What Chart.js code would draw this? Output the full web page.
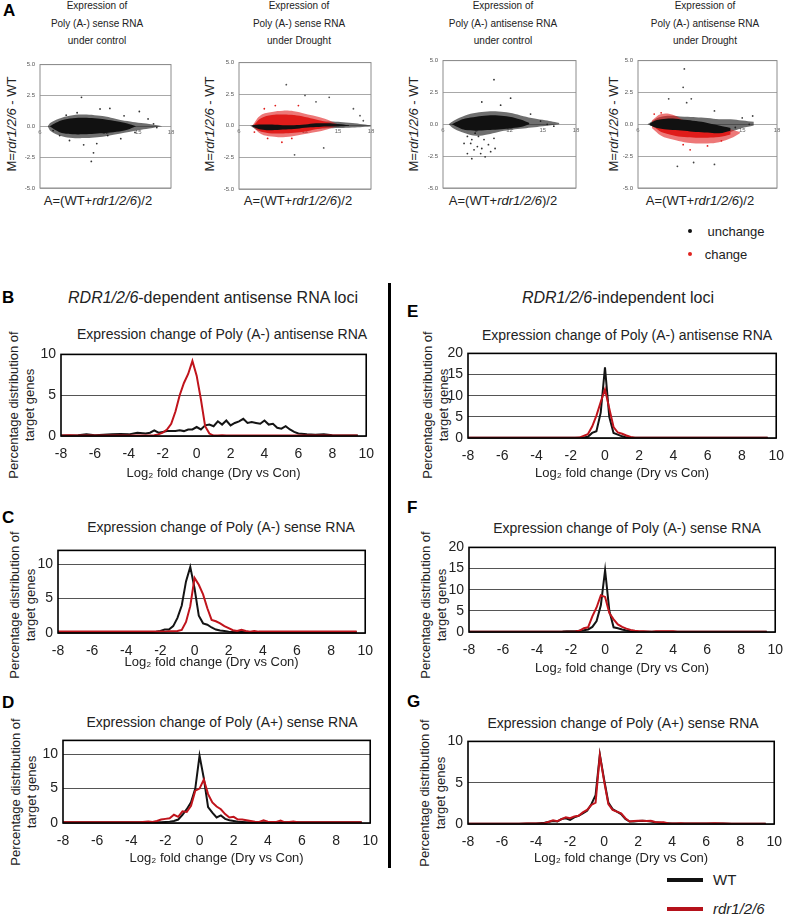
<!DOCTYPE html>
<html>
<head>
<meta charset="utf-8">
<script src="https://cdn.jsdelivr.net/npm/chart.js@4.4.1/dist/chart.umd.min.js"></script>
<style>
body { margin: 0; width: 793px; height: 915px; position: relative; background: #fff; overflow: hidden;
       font-family: 'Liberation Sans', Arial, sans-serif; color: #222; }
canvas { position: absolute; }
.t { position: absolute; white-space: nowrap; transform: translate(-50%, -50%); }
.r { position: absolute; white-space: nowrap; text-align: center; transform: translate(-50%, -50%) rotate(-90deg); }
.yt { font-size: 13px; line-height: 16px; }
.L { position: absolute; font-weight: bold; font-size: 17px; color: #000; transform: translateY(-50%); }
.sub { font-size: 10px; color: #222; text-align: center; line-height: 17.5px; }
.key { position: absolute; height: 4px; width: 36px; }
</style>
</head>
<body>

<!-- panel A -->
<div class="L" style="left:3px;top:11px">A</div>
<div class="t sub" style="left:97px;top:23px">Expression of<br>Poly (A-) sense RNA<br>under control</div>
<div class="t sub" style="left:299px;top:23px">Expression of<br>Poly (A-) sense RNA<br>under Drought</div>
<div class="t sub" style="left:503px;top:23px">Expression of<br>Poly (A-) antisense RNA<br>under control</div>
<div class="t sub" style="left:705px;top:23px">Expression of<br>Poly (A-) antisense RNA<br>under Drought</div>

<div class="r" style="left:11px;top:124px;font-size:13px">M=<i>rdr1/2/6</i> - WT</div>
<div class="r" style="left:209px;top:124px;font-size:13px">M=<i>rdr1/2/6</i> - WT</div>
<div class="r" style="left:413px;top:124px;font-size:13px">M=<i>rdr1/2/6</i> - WT</div>
<div class="r" style="left:613px;top:124px;font-size:13px">M=<i>rdr1/2/6</i> - WT</div>

<div class="t" style="left:98px;top:200px;font-size:13px">A=(WT+<i>rdr1/2/6</i>)/2</div>
<div class="t" style="left:298px;top:200px;font-size:13px">A=(WT+<i>rdr1/2/6</i>)/2</div>
<div class="t" style="left:503px;top:200px;font-size:13px">A=(WT+<i>rdr1/2/6</i>)/2</div>
<div class="t" style="left:700px;top:200px;font-size:13px">A=(WT+<i>rdr1/2/6</i>)/2</div>

<div style="position:absolute;left:688px;top:229px;width:4px;height:4px;border-radius:2px;background:#111"></div>
<div class="t" style="left:736px;top:231px;font-size:13px">unchange</div>
<div style="position:absolute;left:688px;top:252px;width:4px;height:4px;border-radius:2px;background:#e0231f"></div>
<div class="t" style="left:726px;top:254px;font-size:13px">change</div>

<canvas id="ma1" width="159" height="141" style="left:18px;top:56px"></canvas>
<canvas id="ma2" width="160" height="144" style="left:217px;top:54px"></canvas>
<canvas id="ma3" width="161" height="145" style="left:421px;top:52px"></canvas>
<canvas id="ma4" width="167" height="145" style="left:616px;top:52px"></canvas>

<!-- panels B-G -->
<div style="position:absolute;left:388px;top:283px;width:3px;height:585px;background:#000"></div>

<div class="t" style="left:213px;top:298px;font-size:16px"><i>RDR1/2/6</i>-dependent antisense RNA loci</div>
<div class="t" style="left:618px;top:298px;font-size:16px"><i>RDR1/2/6</i>-independent loci</div>

<div class="L" style="left:2px;top:298px">B</div>
<div class="L" style="left:2px;top:518px">C</div>
<div class="L" style="left:2px;top:703px">D</div>
<div class="L" style="left:407px;top:312px">E</div>
<div class="L" style="left:407px;top:508px">F</div>
<div class="L" style="left:407px;top:702px">G</div>

<div class="t" style="left:222px;top:334px;font-size:14px">Expression change of Poly (A-) antisense RNA</div>
<div class="t" style="left:221px;top:527px;font-size:14px">Expression change of Poly (A-) sense RNA</div>
<div class="t" style="left:222px;top:722px;font-size:14px">Expression change of Poly (A+) sense RNA</div>
<div class="t" style="left:627px;top:335px;font-size:14px">Expression change of Poly (A-) antisense RNA</div>
<div class="t" style="left:627px;top:528px;font-size:14px">Expression change of Poly (A-) sense RNA</div>
<div class="t" style="left:623px;top:723px;font-size:14px">Expression change of Poly (A+) sense RNA</div>

<div class="r yt" style="left:22px;top:405px">Percentage distribution of<br>target genes</div>
<div class="r yt" style="left:23px;top:605px">Percentage distribution of<br>target genes</div>
<div class="r yt" style="left:24px;top:792px">Percentage distribution of<br>target genes</div>
<div class="r yt" style="left:436px;top:405px">Percentage distribution of<br>target genes</div>
<div class="r yt" style="left:434px;top:605px">Percentage distribution of<br>target genes</div>
<div class="r yt" style="left:433px;top:793px">Percentage distribution of<br>target genes</div>

<canvas id="distB" width="384" height="144" style="left:0px;top:341px"></canvas>
<canvas id="distC" width="383" height="137" style="left:0px;top:537px"></canvas>
<canvas id="distD" width="388" height="143" style="left:0px;top:727px"></canvas>
<canvas id="distE" width="394" height="145" style="left:400px;top:340px"></canvas>
<canvas id="distF" width="393" height="146" style="left:400px;top:534px"></canvas>
<canvas id="distG" width="392" height="142" style="left:400px;top:728px"></canvas>

<div class="key" style="left:667px;top:878px;background:#111"></div>
<div style="position:absolute;left:713px;top:871px;font-size:15px">WT</div>
<div class="key" style="left:667px;top:907px;background:#b5121b"></div>
<div style="position:absolute;left:713px;top:900px;font-size:15px"><i>rdr1/2/6</i></div>

<script>
// ---------- panel A: MA plots (dense core + faded halo + sparse dots) ----------
const a1CoreX = [6.9, 7.5, 8, 9, 10, 11, 12, 13, 14, 14.8];
const a1CoreUp = [0, 0.3, 0.5, 0.65, 0.7, 0.65, 0.55, 0.4, 0.22, 0];
const a1CoreLo = [0, -0.35, -0.55, -0.65, -0.65, -0.6, -0.55, -0.45, -0.28, 0];
const a1HaloX = [6.7, 7, 8, 9, 10, 11, 12, 13, 14, 15, 16, 17.2];
const a1HaloUp = [0, 0.3, 0.7, 0.9, 0.95, 0.9, 0.8, 0.6, 0.42, 0.28, 0.18, 0];
const a1HaloLo = [0, -0.4, -0.8, -0.95, -0.95, -0.9, -0.8, -0.65, -0.48, -0.32, -0.18, 0];
const a1DotX = [9.8, 12.4, 15.1, 10.9, 10.7, 10, 8.7, 11.2, 12.2, 13.4, 9.4, 8.4, 11.5, 13.7, 15.9, 16.4, 16.7, 14.7, 7.8, 7.2];
const a1DotY = [2.35, 1.45, 1.2, -2.15, -2.85, -1.5, -1.15, -1.4, -0.75, -1.0, 1.1, 0.9, 1.4, 0.85, 0.6, 0.2, -0.1, -0.5, -0.75, -0.35];

const a2BlackX = [7.2, 8, 9, 10, 11, 12, 13, 14, 15, 16];
const a2BlackUp = [0.05, 0.1, 0.1, 0.05, 0.05, 0.1, 0.2, 0.2, 0.15, 0.05];
const a2BlackLo = [-0.05, -0.3, -0.35, -0.3, -0.25, -0.15, -0.1, -0.05, -0.05, -0.02];
const a2BHaloX = [7, 8, 10, 12, 14, 16, 18];
const a2BHaloUp = [0, 0.2, 0.15, 0.25, 0.35, 0.25, 0.05];
const a2BHaloLo = [0, -0.45, -0.45, -0.3, -0.2, -0.15, -0.05];
const a2RedX = [7.4, 8, 9, 10, 11, 12, 13, 14, 14.6];
const a2RedUp = [0.1, 0.6, 0.85, 0.9, 0.85, 0.7, 0.5, 0.28, 0.1];
const a2RedLo = [-0.1, -0.45, -0.6, -0.6, -0.55, -0.45, -0.28, -0.12, 0];
const a2RHaloX = [7.2, 8, 9, 10, 11, 12, 13, 14, 15];
const a2RHaloUp = [0, 0.85, 1.1, 1.2, 1.15, 0.95, 0.75, 0.5, 0.1];
const a2RHaloLo = [0, -0.65, -0.85, -0.9, -0.8, -0.65, -0.5, -0.3, 0];
const a2DotX = [10.3, 12, 14.2, 13, 17, 17.3, 16.4, 13.7, 11.05];
const a2DotY = [3.25, 2.4, 2.25, 1.9, 0.8, 0.4, 1.35, -1.75, -2.3];
const a2RedDotX = [9.9, 8.6, 10.8, 9.3, 8.3, 11.4, 7.4];
const a2RedDotY = [-1.3, -1.0, -1.0, 1.6, 1.35, 1.6, -0.5];

const a3CoreX = [6.8, 7.5, 8, 9, 10, 11, 12, 13, 13.8];
const a3CoreUp = [0, 0.3, 0.45, 0.6, 0.7, 0.7, 0.6, 0.38, 0.1];
const a3CoreLo = [0, -0.3, -0.45, -0.5, -0.45, -0.4, -0.32, -0.22, 0];
const a3HaloX = [6.5, 7, 8, 9, 10, 11, 12, 13, 14, 15, 16.5];
const a3HaloUp = [0, 0.3, 0.7, 0.9, 1.0, 1.0, 0.9, 0.7, 0.5, 0.35, 0.1];
const a3HaloLo = [0, -0.35, -0.7, -0.9, -0.8, -0.6, -0.45, -0.35, -0.25, -0.15, 0];
const a3DotX = [10.6, 12.1, 11.2, 9.5, 8.2, 8.5, 8.8, 9.1, 9.4, 8.6, 9.7, 9.8, 9.2, 10.1, 10.6, 8.2, 8.9, 13.9, 15.4, 16, 14.8, 10.7, 7.9, 8.6, 9.5, 10.3];
const a3DotY = [3.5, 2.05, 1.5, 1.75, -0.95, -1.5, -2.0, -1.75, -2.3, -2.7, -1.2, -2.55, -0.95, -1.6, -1.1, -2.3, -0.7, 0.8, 0, -0.15, 0.25, -1.9, -1.5, -1.2, -1.9, -2.15];

const a4BlackX = [7, 7.5, 8, 9, 10, 11, 12, 13, 14];
const a4BlackUp = [0.05, 0.3, 0.4, 0.45, 0.35, 0.25, 0.1, -0.1, -0.3];
const a4BlackLo = [-0.05, -0.25, -0.35, -0.45, -0.5, -0.6, -0.65, -0.7, -0.5];
const a4BHaloX = [6.8, 8, 10, 12, 13, 14, 15, 16];
const a4BHaloUp = [0, 0.6, 0.6, 0.5, 0.4, 0.4, 0.3, 0.2];
const a4BHaloLo = [0, -0.4, -0.55, -0.75, -0.8, -0.6, -0.3, -0.1];
const a4RedX = [7.5, 8, 9, 10, 11, 12, 13, 14];
const a4RedUp = [0.3, 0.4, 0.2, -0.2, -0.35, -0.45, -0.5, -0.55];
const a4RedLo = [-0.3, -0.6, -0.85, -1.0, -1.05, -1.05, -1.0, -0.8];
const a4RHaloX = [7.2, 8, 9, 10, 11, 12, 13, 14, 14.8];
const a4RHaloUp = [0.3, 0.8, 0.75, 0.3, 0, -0.2, -0.3, -0.4, -0.6];
const a4RHaloLo = [-0.3, -0.9, -1.2, -1.4, -1.5, -1.5, -1.4, -1.1, -0.7];
const a4DotX = [10, 9.9, 10.2, 8.65, 10.6, 12.6, 15, 15.9, 15.6, 10.8, 12.6, 9.4, 13.5, 14.4];
const a4DotY = [4.35, 2.9, 1.7, 2.0, 2.0, 1.05, 0.5, 0.65, 0, -3.0, -3.15, -3.3, -0.65, -0.25];
const a4RedDotX = [10.5, 12, 9.9, 13.2, 7.4, 8];
const a4RedDotY = [-2.0, -1.7, -1.6, -1.3, 0.8, 0.9];

// ---------- panels B-G: distribution of log2 fold change ----------
const foldBins = [
  -8, -7.5, -7, -6.5, -6, -5.5, -5, -4.5, -4, -3.5, -3,
  -2.75, -2.5, -2.25, -2, -1.75, -1.5, -1.25, -1, -0.75, -0.5, -0.25,
  0, 0.25, 0.5, 0.75, 1, 1.25, 1.5, 1.75, 2, 2.25, 2.5, 2.75,
  3, 3.25, 3.5, 3.75, 4, 4.25, 4.5, 4.75, 5, 5.25, 5.5, 5.75, 6,
  6.5, 7, 7.5, 8, 8.5, 9, 9.5
];

const bWT = [
  0.05, 0.05, 0.1, 0.2, 0.1, 0.15, 0.2, 0.25, 0.2, 0.4, 0.3,
  0.4, 0.7, 0.4, 0.5, 0.6, 0.6, 0.6, 0.7, 0.6, 0.8, 0.8,
  1.1, 0.8, 1.3, 1.4, 1.2, 1.8, 1.4, 1.9, 1.3, 1.6, 1.8, 2.1,
  1.6, 1.7, 1.6, 1.5, 1.9, 1.4, 1.5, 1.0, 0.9, 1.2, 0.8, 0.5, 0.3,
  0.2, 0.15, 0.2, 0.1, 0.05, 0.05, 0.05
];
const bRdr = [
  0.05, 0.1, 0.05, 0.05, 0.05, 0.05, 0.05, 0.05, 0.05, 0.05, 0.05,
  0.05, 0.1, 0.2, 0.4, 0.8, 1.5, 3.0, 5.0, 6.5, 7.6, 9.2,
  7.4, 4.5, 1.2, 0.3, 0.05, 0.05, 0.1, 0.05, 0.05, 0.05, 0.05, 0.05,
  0.05, 0.05, 0.05, 0.05, 0.05, 0.05, 0.05, 0.05, 0.05, 0.05, 0.05, 0.05, 0.05,
  0.05, 0.05, 0.05, 0.05, 0.05, 0.05, 0.05
];
const cWT = [
  0.15, 0.15, 0.15, 0.15, 0.15, 0.15, 0.15, 0.15, 0.15, 0.15, 0.15,
  0.15, 0.15, 0.2, 0.3, 0.5, 0.5, 1.0, 2.2, 4.0, 7.5, 9.6,
  6.5, 2.5, 1.4, 1.2, 0.8, 0.5, 0.35, 0.3, 0.2, 0.15, 0.15, 0.15,
  0.15, 0.15, 0.15, 0.15, 0.15, 0.15, 0.15, 0.15, 0.15, 0.15, 0.15, 0.15, 0.15,
  0.15, 0.15, 0.15, 0.15, 0.15, 0.15, 0.15
];
const cRdr = [
  0.2, 0.2, 0.2, 0.2, 0.2, 0.2, 0.2, 0.2, 0.2, 0.2, 0.2,
  0.2, 0.2, 0.2, 0.2, 0.2, 0.25, 0.25, 0.3, 0.45, 1.6, 3.9,
  8.0, 7.0, 5.6, 3.6, 1.9, 1.7, 1.4, 1.0, 0.7, 0.4, 0.3, 0.45,
  0.3, 0.2, 0.3, 0.2, 0.2, 0.2, 0.2, 0.2, 0.2, 0.2, 0.2, 0.2, 0.2,
  0.2, 0.2, 0.2, 0.2, 0.2, 0.2, 0.2
];
const dWT = [
  0.1, 0.1, 0.1, 0.1, 0.1, 0.1, 0.1, 0.1, 0.1, 0.1, 0.1,
  0.1, 0.1, 0.1, 0.15, 0.2, 0.3, 0.5, 1.2, 2.0, 3.0, 5.0,
  9.8, 6.5, 2.3, 1.5, 0.8, 1.1, 0.6, 0.4, 0.3, 0.2, 0.15, 0.1,
  0.1, 0.1, 0.1, 0.1, 0.1, 0.1, 0.1, 0.1, 0.1, 0.1, 0.1, 0.1, 0.1,
  0.1, 0.1, 0.1, 0.1, 0.1, 0.1, 0.1
];
const dRdr = [
  0.1, 0.1, 0.1, 0.1, 0.1, 0.1, 0.1, 0.1, 0.1, 0.1, 0.2,
  0.15, 0.3, 0.5, 0.6, 0.7, 1.2, 0.9, 1.7, 1.6, 2.5, 4.7,
  5.0, 6.3, 4.2, 3.0, 2.4, 2.0, 1.3, 0.8, 0.9, 0.5, 0.5, 0.4,
  0.3, 0.2, 0.15, 0.4, 0.2, 0.15, 0.15, 0.35, 0.1, 0.15, 0.2, 0.1, 0.1,
  0.1, 0.1, 0.1, 0.1, 0.1, 0.1, 0.1
];
const eWT = [
  0.05, 0.05, 0.05, 0.05, 0.05, 0.05, 0.05, 0.05, 0.05, 0.05, 0.05,
  0.05, 0.05, 0.05, 0.05, 0.05, 0.05, 0.1, 0.3, 1.2, 1.6, 6.0,
  16.7, 5.0, 1.2, 0.8, 0.4, 0.15, 0.05, 0.05, 0.05, 0.05, 0.05, 0.05,
  0.05, 0.05, 0.05, 0.05, 0.05, 0.05, 0.05, 0.05, 0.05, 0.05, 0.05, 0.05, 0.05,
  0.05, 0.05, 0.05, 0.05, 0.05, 0.05, 0.05
];
const eRdr = [
  0.05, 0.05, 0.05, 0.05, 0.05, 0.05, 0.05, 0.05, 0.05, 0.05, 0.05,
  0.05, 0.05, 0.05, 0.05, 0.05, 0.1, 0.5, 0.9, 2.7, 5.3, 8.5,
  11.5, 7.0, 2.6, 1.3, 1.0, 0.6, 0.25, 0.05, 0.05, 0.05, 0.05, 0.05,
  0.05, 0.05, 0.05, 0.05, 0.05, 0.05, 0.05, 0.05, 0.05, 0.05, 0.05, 0.05, 0.05,
  0.05, 0.05, 0.05, 0.05, 0.05, 0.05, 0.05
];
const fWT = [
  0.05, 0.05, 0.05, 0.05, 0.05, 0.05, 0.05, 0.05, 0.05, 0.05, 0.05,
  0.05, 0.1, 0.2, 0.15, 0.2, 0.3, 0.4, 0.6, 1.2, 2.6, 6.3,
  14.6, 5.0, 1.1, 0.9, 0.6, 0.35, 0.2, 0.1, 0.05, 0.05, 0.05, 0.05,
  0.05, 0.05, 0.05, 0.05, 0.05, 0.05, 0.05, 0.05, 0.05, 0.05, 0.05, 0.05, 0.05,
  0.05, 0.05, 0.05, 0.05, 0.05, 0.05, 0.05
];
const fRdr = [
  0.05, 0.05, 0.05, 0.05, 0.05, 0.05, 0.05, 0.05, 0.05, 0.05, 0.05,
  0.05, 0.05, 0.05, 0.05, 0.1, 0.3, 0.9, 1.1, 3.7, 5.8, 8.7,
  8.3, 4.5, 3.0, 1.8, 1.2, 0.8, 0.5, 0.3, 0.2, 0.15, 0.1, 0.05,
  0.15, 0.2, 0.15, 0.2, 0.2, 0.05, 0.05, 0.05, 0.05, 0.05, 0.05, 0.05, 0.05,
  0.05, 0.05, 0.05, 0.05, 0.05, 0.05, 0.05
];
const gWT = [
  0.02, 0.02, 0.02, 0.02, 0.02, 0.02, 0.02, 0.05, 0.05, 0.15, 0.35,
  0.3, 0.6, 0.7, 0.5, 0.8, 1.0, 1.3, 1.6, 2.4, 3.5, 8.4,
  5.4, 2.6, 1.8, 1.5, 1.2, 0.6, 0.3, 0.3, 0.35, 0.4, 0.35, 0.3,
  0.2, 0.15, 0.1, 0.08, 0.05, 0.05, 0.05, 0.05, 0.05, 0.05, 0.05, 0.05, 0.05,
  0.05, 0.05, 0.02, 0.02, 0.02, 0.02, 0.02
];
const gRdr = [
  0.02, 0.02, 0.02, 0.02, 0.02, 0.02, 0.02, 0.05, 0.05, 0.1, 0.45,
  0.35, 0.6, 0.8, 0.7, 0.9, 1.0, 1.4, 1.7, 2.3, 2.6, 8.3,
  5.2, 2.4, 1.7, 1.5, 1.3, 0.7, 0.3, 0.35, 0.4, 0.4, 0.35, 0.4,
  0.25, 0.2, 0.2, 0.1, 0.05, 0.05, 0.08, 0.05, 0.05, 0.05, 0.05, 0.05, 0.05,
  0.08, 0.05, 0.02, 0.02, 0.02, 0.02, 0.02
];

const WT_COLOR = '#141414';
const RDR_COLOR = '#c0141c';
const FONT = "'Liberation Sans', Arial, sans-serif";

// draws a rectangle round the plot area
const framePlugin = {
  id: 'frame',
  afterDatasetsDraw(chart, args, opts) {
    const {ctx, chartArea: a} = chart;
    ctx.save();
    ctx.strokeStyle = opts.color;
    ctx.lineWidth = opts.width;
    ctx.strokeRect(a.left, a.top, a.right - a.left, a.bottom - a.top);
    ctx.restore();
  }
};

function pts(xs, ys) {
  return xs.map((x, i) => ({x: x, y: ys[i]}));
}

function band(xs, up, lo, color) {
  return [
    {data: pts(xs, up), fill: '+1', backgroundColor: color, borderWidth: 0, pointRadius: 0, tension: 0.4},
    {data: pts(xs, lo), fill: false, borderWidth: 0, pointRadius: 0, tension: 0.4}
  ];
}

function dots(xs, ys, color) {
  return {data: pts(xs, ys), showLine: false, pointRadius: 0.9, pointBorderWidth: 0, pointBackgroundColor: color};
}

function makeMA(id, yW, datasets) {
  new Chart(document.getElementById(id), {
    type: 'line',
    data: {datasets: datasets},
    options: {
      responsive: false,
      animation: false,
      layout: {padding: {top: 8, right: 6, bottom: 9, left: 0}},
      plugins: {legend: {display: false}, tooltip: {enabled: false}, frame: {color: '#8c8c8c', width: 1}},
      scales: {
        x: {
          type: 'linear', position: {y: 0}, min: 6, max: 18,
          ticks: {stepSize: 3, font: {size: 6, family: FONT}, color: '#666', padding: 2},
          grid: {display: false, drawTicks: false},
          border: {display: false}
        },
        y: {
          min: -5, max: 5,
          ticks: {stepSize: 2.5, font: {size: 6, family: FONT}, color: '#555', padding: 5,
                  callback: v => v.toFixed(1)},
          grid: {color: '#a8a8a8', drawTicks: false},
          border: {display: false},
          afterFit: s => { s.width = yW; }
        }
      }
    },
    plugins: [framePlugin]
  });
}

const BLACK = '#111';
const BLACK_HALO = 'rgba(15,15,15,0.6)';
const RED = '#e01c1a';
const RED_HALO = 'rgba(225,30,30,0.6)';

makeMA('ma1', 22, [
  ...band(a1CoreX, a1CoreUp, a1CoreLo, BLACK),
  ...band(a1HaloX, a1HaloUp, a1HaloLo, BLACK_HALO),
  dots(a1DotX, a1DotY, '#333')
]);
makeMA('ma2', 22, [
  ...band(a2BlackX, a2BlackUp, a2BlackLo, BLACK),
  ...band(a2RedX, a2RedUp, a2RedLo, RED),
  ...band(a2RHaloX, a2RHaloUp, a2RHaloLo, RED_HALO),
  ...band(a2BHaloX, a2BHaloUp, a2BHaloLo, BLACK_HALO),
  dots(a2RedDotX, a2RedDotY, RED),
  dots(a2DotX, a2DotY, '#555')
]);
makeMA('ma3', 22, [
  ...band(a3CoreX, a3CoreUp, a3CoreLo, BLACK),
  ...band(a3HaloX, a3HaloUp, a3HaloLo, BLACK_HALO),
  dots(a3DotX, a3DotY, '#333')
]);
makeMA('ma4', 22, [
  ...band(a4BlackX, a4BlackUp, a4BlackLo, BLACK),
  ...band(a4RedX, a4RedUp, a4RedLo, RED),
  ...band(a4RHaloX, a4RHaloUp, a4RHaloLo, RED_HALO),
  ...band(a4BHaloX, a4BHaloUp, a4BHaloLo, BLACK_HALO),
  dots(a4RedDotX, a4RedDotY, RED),
  dots(a4DotX, a4DotY, '#444')
]);

function makeDist(id, yMax, yW, xH, padRight, wt, rdr) {
  new Chart(document.getElementById(id), {
    type: 'line',
    data: {
      datasets: [
        {label: 'rdr1/2/6', data: pts(foldBins, rdr), borderColor: RDR_COLOR, borderWidth: 2, pointRadius: 0, tension: 0},
        {label: 'WT', data: pts(foldBins, wt), borderColor: WT_COLOR, borderWidth: 2, pointRadius: 0, tension: 0}
      ]
    },
    options: {
      responsive: false,
      animation: false,
      layout: {padding: {top: 8, right: padRight, bottom: 0, left: 0}},
      plugins: {legend: {display: false}, tooltip: {enabled: false}, frame: {color: '#000', width: 1.6}},
      scales: {
        x: {
          type: 'linear', min: -8, max: 10,
          ticks: {stepSize: 2, font: {size: 14, family: FONT}, color: '#222', padding: 10},
          grid: {display: false, drawTicks: false},
          border: {display: false},
          title: {display: true, text: 'Log\u2082 fold change (Dry vs Con)', color: '#222',
                  font: {size: 13, family: FONT}, padding: {top: 0, bottom: 4}},
          afterFit: s => { s.height = xH; }
        },
        y: {
          min: 0, max: yMax,
          ticks: {stepSize: 5, includeBounds: false, font: {size: 14, family: FONT}, color: '#222', padding: 5},
          grid: {color: '#555', lineWidth: 1, drawTicks: false},
          border: {display: false},
          afterFit: s => { s.width = yW; }
        }
      }
    },
    plugins: [framePlugin]
  });
}

makeDist('distB', 10, 61, 49, 12, bWT, bRdr);
makeDist('distC', 12, 58, 41, 12, cWT, cRdr);
makeDist('distD', 12, 63, 47, 12, dWT, dRdr);
makeDist('distE', 20, 68, 47, 12, eWT, eRdr);
makeDist('distF', 20, 69, 48, 12, fWT, fRdr);
makeDist('distG', 10, 68, 46, 12, gWT, gRdr);
</script>
</body>
</html>
